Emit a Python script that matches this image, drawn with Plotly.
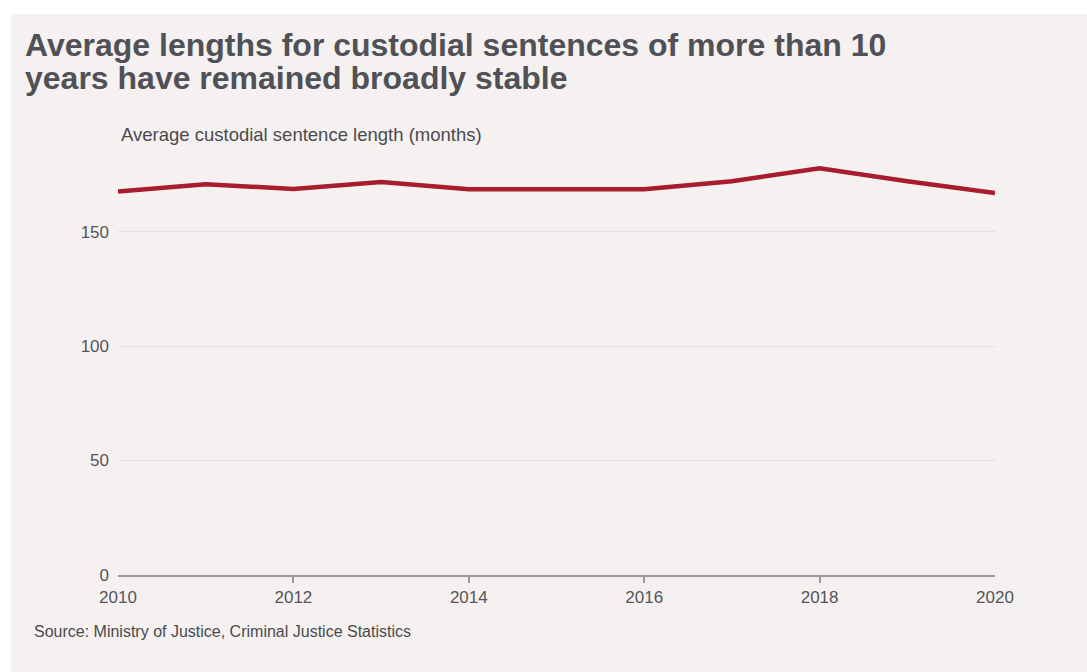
import plotly.graph_objects as go

years = [2010, 2011, 2012, 2013, 2014, 2015, 2016, 2017, 2018, 2019, 2020]
avg_months = [167.5, 170.7, 168.6, 171.6, 168.5, 168.5, 168.5, 172.0, 177.7, 172.0, 166.8]
y_ticks = [0, 50, 100, 150]
x_ticks = [2010, 2012, 2014, 2016, 2018, 2020]
x_tick_marks = [2012, 2014, 2016, 2018]

title_lines = ["Average lengths for custodial sentences of more than 10",
               "years have remained broadly stable"]
y_title = "Average custodial sentence length (months)"
source = "Source: Ministry of Justice, Criminal Justice Statistics"

W, H = 1087, 672
L, R, T, B = 118, 92, 140, 97
PW, PH = W - L - R, H - T - B
BG = "#f4f1f0"
FONT = "Liberation Sans, Arial, Helvetica, sans-serif"


def px(x):
    return (x - L) / PW


def py(y):
    return (H - B - y) / PH


fig = go.Figure()
fig.add_trace(go.Scatter(x=years, y=avg_months, mode="lines",
                         line=dict(color="#a81c2e", width=4.5),
                         hoverinfo="x+y", showlegend=False))

fig.update_layout(
    width=W, height=H,
    margin=dict(l=L, r=R, t=T, b=B, pad=0),
    paper_bgcolor="white",
    plot_bgcolor="rgba(0,0,0,0)",
    font=dict(family=FONT, color="#555559"),
    shapes=[dict(type="rect", xref="paper", yref="paper",
                 x0=px(11), x1=px(W + 5), y0=py(H + 5), y1=py(14),
                 fillcolor=BG, line=dict(width=0), layer="below")],
    xaxis=dict(range=[2010, 2020], tickvals=x_ticks, ticktext=[str(v) for v in x_ticks],
               showgrid=False, zeroline=False, showline=True, linecolor="#9a9a9a", linewidth=2,
               ticks="", ticklabelstandoff=6,
               minor=dict(tickvals=x_tick_marks, ticks="outside", ticklen=6,
                          tickcolor="#9a9a9a", tickwidth=1.5, showgrid=False),
               tickfont=dict(size=17, color="#555559"), fixedrange=True),
    yaxis=dict(range=[0, 190], tickvals=y_ticks, showgrid=True, gridcolor="#e4e0df", gridwidth=1,
               zeroline=False, showline=False, ticks="", ticklabelstandoff=8,
               tickfont=dict(size=17, color="#555559"), fixedrange=True),
    annotations=[
        dict(text=title_lines[0], xref="paper", yref="paper", x=px(23), y=py(45),
             xanchor="left", yanchor="middle", showarrow=False,
             font=dict(size=32, color="#505157", family=FONT, weight="bold")),
        dict(text=title_lines[1], xref="paper", yref="paper", x=px(23), y=py(78),
             xanchor="left", yanchor="middle", showarrow=False,
             font=dict(size=32, color="#505157", family=FONT, weight="bold")),
        dict(text=y_title, xref="paper", yref="paper", x=px(119), y=py(135),
             xanchor="left", yanchor="middle", showarrow=False,
             font=dict(size=18.5, color="#4a4a4e", family=FONT)),
        dict(text=source, xref="paper", yref="paper", x=px(32), y=py(631),
             xanchor="left", yanchor="middle", showarrow=False,
             font=dict(size=16, color="#4a4a4e", family=FONT)),
    ],
)

fig.write_html("out.html")
